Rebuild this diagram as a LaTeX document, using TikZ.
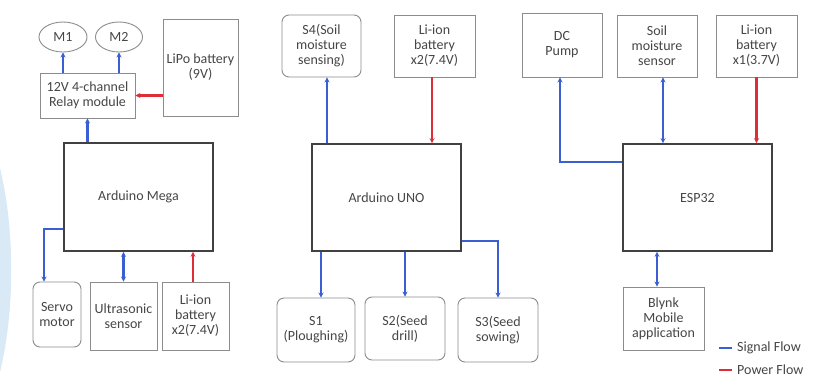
\documentclass[tikz,border=0pt]{standalone}
\usepackage{fontspec}
\setmainfont{Carlito}
\usetikzlibrary{arrows.meta,shapes.geometric,calc}
\definecolor{sigc}{RGB}{59,95,210}
\definecolor{powc}{RGB}{222,45,55}
\definecolor{txtc}{RGB}{70,70,70}
\definecolor{thinc}{RGB}{140,140,140}
\definecolor{thickc}{RGB}{65,65,65}
\definecolor{lbc}{RGB}{218,233,246}
\begin{document}
\begin{tikzpicture}[x=1pt,y=-1pt,
  every node/.style={font=\fontsize{14}{15}\selectfont, text=txtc, align=center, inner sep=1pt},
  sbox/.style={draw=thinc, line width=0.9pt},
  rbox/.style={sbox, rounded corners=7pt},
  mbox/.style={draw=thickc, line width=1.6pt},
  motor/.style={ellipse, sbox},
  tip/.tip={Stealth[length=5pt,width=5pt]},
  sigl/.style={draw=sigc, line width=2.1pt, -tip},
  sigb/.style={draw=sigc, line width=2.1pt, tip-tip},
  powl/.style={draw=powc, line width=2.1pt, -tip}]
\fill[white] (0,0) rectangle (817,381);
\useasboundingbox (0,0) rectangle (817,381);
\fill[lbc] (0,168) .. controls (15,230) and (15,310) .. (0,372) -- cycle;

% ---------- left panel ----------
\node[motor, minimum width=48pt, minimum height=30pt] (m1) at (63,37) {M1};
\node[motor, minimum width=47pt, minimum height=30pt] (m2) at (119,37) {M2};
\node[sbox, minimum width=95pt, minimum height=45pt] (relay) at (87.5,95.5) {12V 4-channel\\Relay module};
\node[sbox, minimum width=75pt, minimum height=97pt] (lipo) at (200.5,67.5) {LiPo battery\\(9V)};
\node[mbox, minimum width=149pt, minimum height=108pt] (mega) at (138.5,197) {Arduino Mega};
\node[rbox, minimum width=48pt, minimum height=65pt] (servo) at (57,314.5) {Servo\\motor};
\node[sbox, minimum width=67pt, minimum height=68pt] (ultra) at (123.5,316) {Ultrasonic\\sensor};
\node[sbox, minimum width=67pt, minimum height=68pt] (liA) at (195.5,316) {Li-ion\\battery\\x2(7.4V)};

\draw[sigl] (relay.north -| m1) -- (m1.south);
\draw[sigl] (relay.north -| m2) -- (m2.south);
\draw[sigl] (mega.north -| relay) -- (relay.south);
\draw[powl] (lipo.west |- relay) -- (relay.east);
\coordinate (svin) at ([xshift=-13pt]servo.north);
\draw[sigl] ([yshift=-32pt]mega.west) -| (svin);
\draw[sigb] (mega.south -| ultra) -- (ultra.north);
\coordinate (liAout) at ([xshift=-2.5pt]liA.north);
\draw[powl] (liAout) -- (liAout |- mega.south);

% ---------- middle panel ----------
\node[rbox, minimum width=79pt, minimum height=62pt] (s4) at (321.5,46) {S4(Soil\\moisture\\sensing)};
\node[sbox, minimum width=81pt, minimum height=62pt] (liB) at (434.5,46) {Li-ion\\battery\\x2(7.4V)};
\node[mbox, minimum width=149pt, minimum height=107pt] (uno) at (386.5,197.5) {Arduino UNO};
\node[rbox, minimum width=78pt, minimum height=64pt] (s1) at (316,330) {S1\\(Ploughing)};
\node[rbox, minimum width=80pt, minimum height=63pt] (s2) at (405,328.5) {S2(Seed\\drill)};
\node[rbox, minimum width=80pt, minimum height=64pt] (s3) at (498,330) {S3(Seed\\sowing)};

\coordinate (s4in) at ([xshift=5.5pt]s4.south);
\draw[sigl] (s4in |- uno.north) -- (s4in);
\coordinate (liBout) at ([xshift=-2.5pt]liB.south);
\draw[powl] (liBout) -- (liBout |- uno.north);
\coordinate (s1in) at ([xshift=5pt]s1.north);
\draw[sigl] (s1in |- uno.south) -- (s1in);
\draw[sigl] (uno.south -| s2) -- (s2.north);
\draw[sigl] ([yshift=-43.5pt]uno.east) -| (s3.north);

% ---------- right panel ----------
\node[sbox, minimum width=80pt, minimum height=64pt] (pump) at (562,45) {DC\\Pump};
\node[sbox, minimum width=80pt, minimum height=62pt] (soil) at (657,46) {Soil\\moisture\\sensor};
\node[sbox, minimum width=81pt, minimum height=62pt] (liC) at (756.5,46) {Li-ion\\battery\\x1(3.7V)};
\node[mbox, minimum width=149pt, minimum height=107pt] (esp) at (697.5,197.5) {ESP32};
\node[sbox, minimum width=81pt, minimum height=63pt] (blynk) at (663.5,318.5) {Blynk\\Mobile\\application};

\coordinate (pumpin) at ([xshift=-2pt]pump.south);
\draw[sigl] ([yshift=35.5pt]esp.west) -| (pumpin);
\coordinate (soilin) at ([xshift=6pt]soil.south);
\draw[sigb] (soilin |- esp.north) -- (soilin);
\draw[powl] (liC.south) -- (liC.south |- esp.north);
\coordinate (blin) at ([xshift=-6.5pt]blynk.north);
\draw[sigb] (blin |- esp.south) -- (blin);

% ---------- legend ----------
\coordinate (lgA) at (719,348);
\coordinate (lgB) at (732,348);
\coordinate (lgC) at (719,370);
\coordinate (lgD) at (732,370);
\draw[draw=sigc, line width=1.8pt] (lgA) -- (lgB);
\draw[draw=powc, line width=1.8pt] (lgC) -- (lgD);
\node[anchor=west] (lgsig) at (736,348) {Signal Flow};
\node[anchor=west] (lgpow) at (736,370) {Power Flow};
\end{tikzpicture}
\end{document}
